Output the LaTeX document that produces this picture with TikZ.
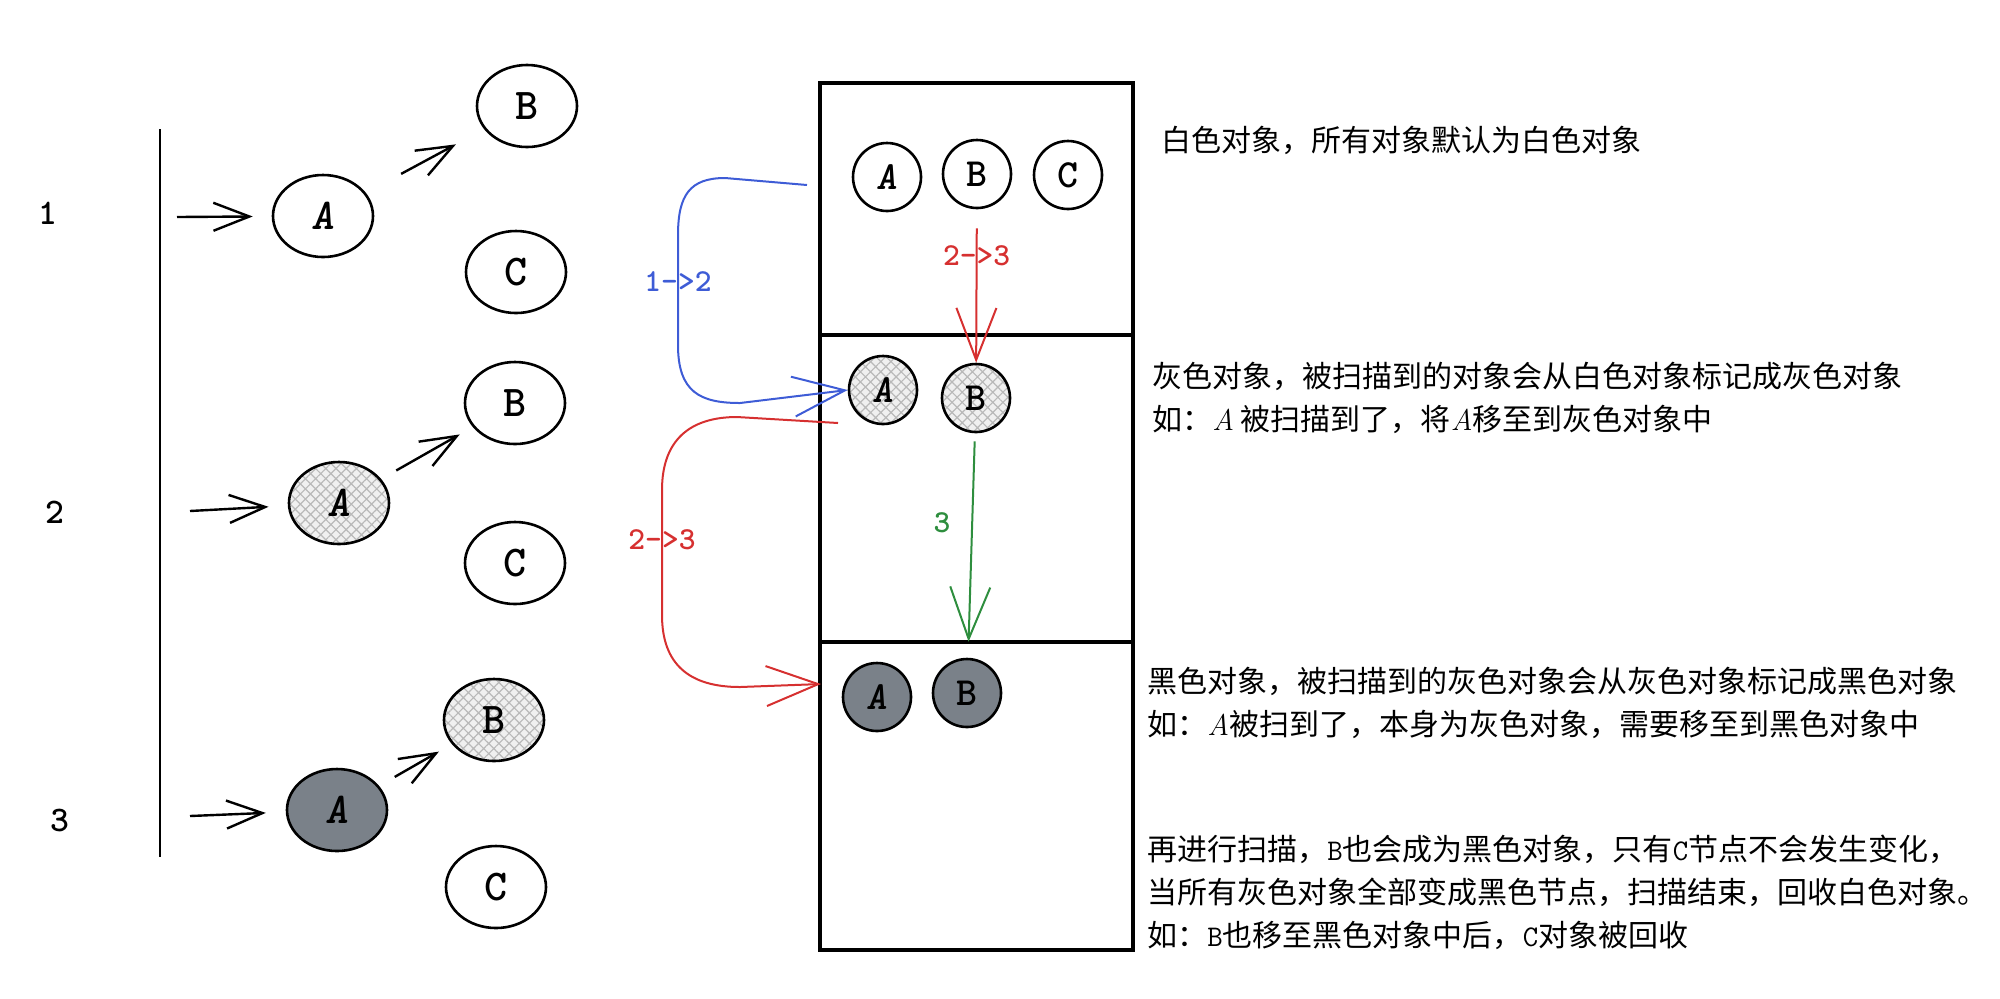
\documentclass[tikz,border=0pt]{standalone}
\usepackage{fontspec}
\newfontfamily\cjk{Noto Sans CJK SC}
\usepackage{xcolor}
\usetikzlibrary{arrows.meta,shapes.geometric,patterns.meta}

\definecolor{objdark}{RGB}{122,129,137}
\definecolor{exblue}{RGB}{62,92,214}
\definecolor{exred}{RGB}{214,48,48}
\definecolor{exgreen}{RGB}{46,142,62}

\begin{document}
\begin{tikzpicture}[x=0.5pt, y=-0.5pt,
        obj/.style={ellipse, draw, line width=1.3pt, minimum width=50pt, minimum height=41pt, inner sep=0pt, font=\fontsize{22}{22}\selectfont\ttfamily\bfseries},
        sobj/.style={circle, draw, line width=1.3pt, minimum size=34pt, inner sep=0pt, font=\fontsize{20}{20}\selectfont\ttfamily\bfseries},
        hatchobj/.style={preaction={fill=gray!12}, pattern={Hatch[angle=45,distance=3.6pt,line width=0.6pt]}, pattern color=gray!55},
        darkobj/.style={fill=objdark},
        sect/.style={draw, line width=1.8pt, minimum width=156.5pt, inner sep=0pt},
        rowlbl/.style={font=\fontsize{18}{18}\selectfont\ttfamily\bfseries},
        arr/.style={-{Straight Barb[length=18pt,width=14pt]}, line width=1.2pt},
        carr/.style={-{Straight Barb[length=26pt,width=20pt]}, line width=1pt},
        clbl/.style={font=\fontsize{16}{16}\selectfont\ttfamily\bfseries},
        txt/.style={anchor=west, align=left, inner sep=0pt, font=\fontsize{15}{21.5}\selectfont\cjk}
    ]
    \useasboundingbox (0,0) rectangle (2000,998);

    % left: the three scan steps
    \node[rowlbl] (n1) at (48,213) {1};
    \node[rowlbl] (n2) at (55,512) {2};
    \node[rowlbl] (n3) at (60,820) {3};
    \coordinate (lineTop) at (160,129);
    \coordinate (lineBot) at (160,857);
    \draw[line width=1.4pt] (lineTop) -- (lineBot);

    \node[obj] (A1) at (323,216) {\textit{A}};
    \node[obj] (B1) at (527,106) {B};
    \node[obj] (C1) at (516,272) {C};
    \coordinate (t1) at (177,217);
    \draw[arr, shorten >=9.5pt] (t1) -- (A1);
    \draw[arr, shorten <=20pt, shorten >=16pt] (A1) -- (B1);

    \node[obj, hatchobj] (A2) at (339,503) {\textit{A}};
    \node[obj] (B2) at (515,403) {B};
    \node[obj] (C2) at (515,563) {C};
    \coordinate (t2) at (190,511);
    \draw[arr, shorten >=10pt] (t2) -- (A2);
    \draw[arr, shorten <=9pt, shorten >=7.5pt] (A2) -- (B2);

    \node[obj, darkobj] (A3) at (337,810) {\textit{A}};
    \node[obj, hatchobj] (B3) at (494,720) {B};
    \node[obj] (C3) at (496,887) {C};
    \coordinate (t3) at (190,816);
    \draw[arr, shorten >=10pt] (t3) -- (A3);
    \draw[arr, shorten <=9pt, shorten >=7.5pt] (A3) -- (B3);

    % middle: white / grey / black sets
    \node[sect, minimum height=126pt] (wsec) at (976.5,209) {};
    \node[sect, minimum height=153.5pt] (gsec) at (976.5,488.5) {};
    \node[sect, minimum height=154pt] (bsec) at (976.5,796) {};

    \node[sobj] (wA) at (887,177) {\textit{A}};
    \node[sobj] (wB) at (977,174) {B};
    \node[sobj] (wC) at (1068,175) {C};
    \node[sobj, hatchobj] (gA) at (883,390) {\textit{A}};
    \node[sobj, hatchobj] (gB) at (976,398) {B};
    \node[sobj, darkobj] (bA) at (877,697) {\textit{A}};
    \node[sobj, darkobj] (bB) at (967,693) {B};

    \draw[carr, exred, shorten <=9.5pt] (wB) -- node[clbl, pos=0.3] {2->3} (gB);
    \draw[carr, exgreen, shorten <=4pt, shorten >=8pt] (gB) -- (bB);
    \node[clbl, text=exgreen] (l3) at (942,523) {3};

    \coordinate (blueTail) at (807,185);
    \draw[carr, exblue] (blueTail) -- (725,178) .. controls (690,178) and (678,195) .. (678,235)
        -- (678,345) .. controls (678,392) and (700,403) .. (740,403) -- (gA.west);
    \node[clbl, text=exblue] (l12) at (678,282) {1->2};

    \coordinate (redTail) at (838,423);
    \coordinate (redTip) at (821,684);
    \draw[carr, exred] (redTail) -- (737,417) .. controls (690,417) and (662,440) .. (662,490)
        -- (662,615) .. controls (662,665) and (690,687) .. (740,687) -- (redTip);
    \node[clbl, text=exred] (l23) at (662,540) {2->3};

    % right: notes
    \node[txt] (note1) at (1161,140) {白色对象，所有对象默认为白色对象};
    \node[txt] (note2) at (1152,398) {灰色对象，被扫描到的对象会从白色对象标记成灰色对象\\
        如：{\normalfont\itshape A} 被扫描到了，将{\normalfont\itshape A}移至到灰色对象中};
    \node[txt] (note3) at (1147,703) {黑色对象，被扫描到的灰色对象会从灰色对象标记成黑色对象\\
        如：{\normalfont\itshape A}被扫到了，本身为灰色对象，需要移至到黑色对象中};
    \node[txt] (note4) at (1147,892) {再进行扫描，{\ttfamily B}也会成为黑色对象，只有{\ttfamily C}节点不会发生变化，\\
        当所有灰色对象全部变成黑色节点，扫描结束，回收白色对象。\\
        如：{\ttfamily B}也移至黑色对象中后，{\ttfamily C}对象被回收};
\end{tikzpicture}
\end{document}
